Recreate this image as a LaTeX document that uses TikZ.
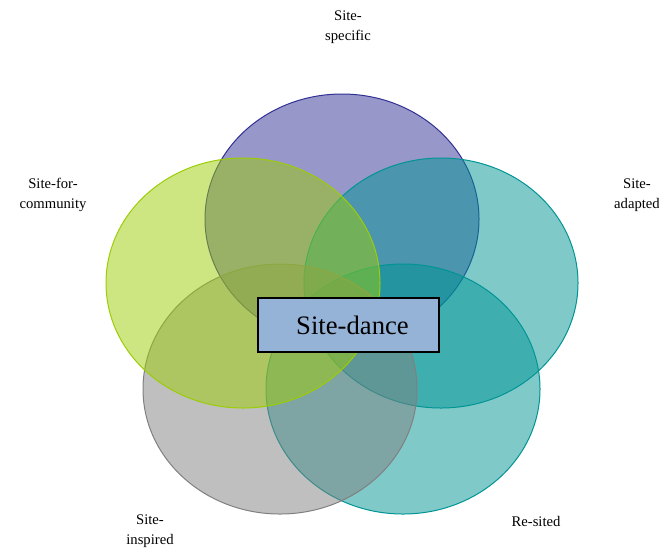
\documentclass[tikz,border=0pt]{standalone}
\usepackage{fontspec}
\setmainfont{Liberation Serif}
\usetikzlibrary{shapes.geometric}
\definecolor{purpleC}{RGB}{48,48,148}
\definecolor{greenC}{RGB}{155,205,5}
\definecolor{tealC}{RGB}{0,148,148}
\definecolor{greyC}{RGB}{128,128,128}
\definecolor{boxC}{RGB}{149,179,215}
\tikzset{
	petal/.style={ellipse, draw=#1, fill=#1, fill opacity=0.5, line width=0.75pt,
		minimum width=205.5pt, minimum height=187.5pt, inner sep=0pt},
	lbl/.style={font=\fontsize{11}{15}\selectfont, align=center},
}
\begin{document}
\begin{tikzpicture}[x=0.75pt, y=-0.75pt]
	\useasboundingbox (0,0) rectangle (659,551);

	\node[petal=purpleC] (spec) at (342, 219) {};
	\node[petal=tealC] (adap) at (441, 283) {};
	\node[petal=tealC] (resi) at (403, 389) {};
	\node[petal=greyC] (insp) at (280, 389) {};
	\node[petal=greenC] (comm) at (243, 283) {};

	\node[draw, line width=1.5pt, fill=boxC, minimum width=136pt, minimum height=41pt,
		font=\fontsize{20}{24}\selectfont] (dance) at (348.5, 325) {\hspace*{6pt}Site-dance};

	\begin{scope}[every node/.append style={lbl}]
		\node (specL) at (348, 27) {Site-\\specific};
		\node (commL) at (53, 195) {Site-for-\\community};
		\node (adapL) at (637, 195) {Site-\\adapted};
		\node (inspL) at (150, 531) {Site-\\inspired};
		\node (resiL) at (536, 521) {Re-sited};
	\end{scope}
\end{tikzpicture}
\end{document}
